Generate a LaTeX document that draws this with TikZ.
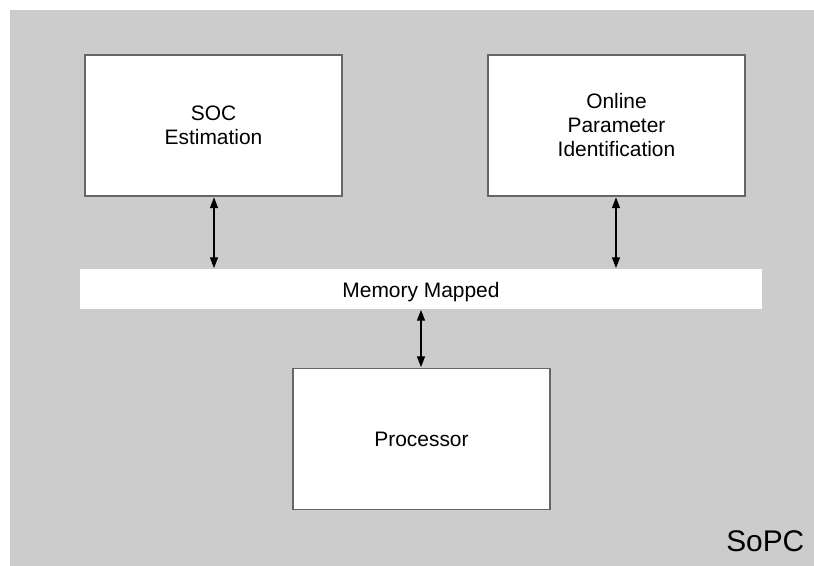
\documentclass[tikz,border=0pt]{standalone}
\usepackage{fontspec}
\setmainfont{Liberation Sans}
\usetikzlibrary{arrows.meta}
\definecolor{bggrey}{HTML}{CCCCCC}
\definecolor{edgegrey}{HTML}{666666}
\begin{document}
\begin{tikzpicture}[x=0.75pt,y=-0.75pt,
  blockbox/.style={draw=edgegrey,line width=1.1pt,fill=white,inner sep=0pt,
    minimum width=192.75pt,minimum height=105.75pt,
    font=\fontsize{15.7}{18}\selectfont,align=center,text=black},
  busbar/.style={fill=white,inner sep=0pt,minimum width=511.5pt,minimum height=30pt,
    font=\fontsize{15.7}{18}\selectfont,text=black},
  biarrow/.style={{Triangle[length=8pt,width=6pt]}-{Triangle[length=8pt,width=6pt]},line width=0.8pt,black,shorten <=0.5pt,shorten >=0.5pt}]
\useasboundingbox (0,0) rectangle (814,566);
\fill[white] (0,0) rectangle (814,566);
\fill[bggrey] (10,10) rectangle (814,566);
\node[busbar] (mem) at (421,289) {\raisebox{-2.25pt}[\height][\depth]{Memory Mapped}};
\node[blockbox] (soc) at (213.5,125.5) {SOC\\Estimation};
\node[blockbox] (opi) at (616.5,125.5) {Online\\Parameter\\Identification};
\node[blockbox] (proc) at (421.5,439) {Processor};
\draw[biarrow] (soc.south -| 214,0) -- (mem.north -| 214,0);
\draw[biarrow] (opi.south -| 616,0) -- (mem.north -| 616,0);
\draw[biarrow] (mem.south -| 421,0) -- (proc.north -| 421,0);
\node[font=\fontsize{22.4}{26}\selectfont,anchor=base east] (sopc) at (809,551) {SoPC};
\end{tikzpicture}
\end{document}
